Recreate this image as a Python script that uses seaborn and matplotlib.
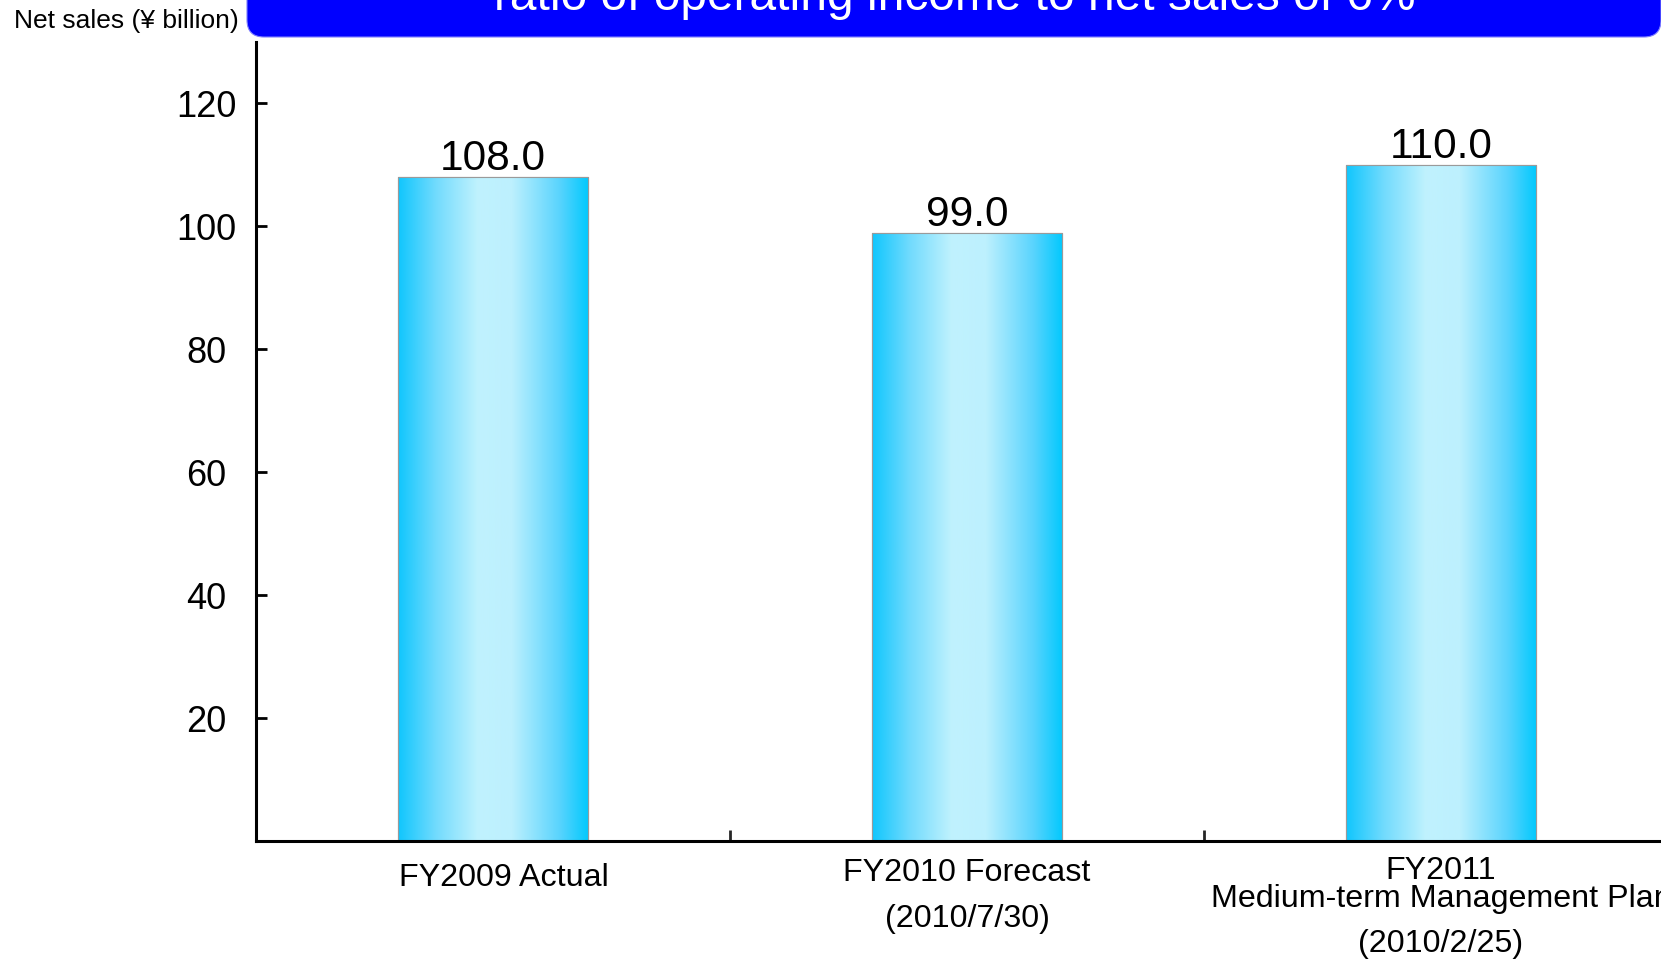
import numpy as np
import pandas as pd
import matplotlib
matplotlib.use("Agg")
import matplotlib.pyplot as plt
import seaborn as sns
from matplotlib.colors import LinearSegmentedColormap
from matplotlib.patches import FancyBboxPatch
from matplotlib.transforms import blended_transform_factory

# data
years = ["FY2009", "FY2010", "FY2011"]
net_sales = [108.0, 99.0, 110.0]
label_lines = [
    ["FY2009 Actual"],
    ["FY2010 Forecast", "(2010/7/30)"],
    ["FY2011", "Medium-term Management Plan", "(2010/2/25)"],
]
y_ticks = [20, 40, 60, 80, 100, 120]
banner_text = "ratio of operating income to net sales of 6%"
y_title = "Net sales (¥ billion)"

sns.set_style("white")
plt.rcParams["font.family"] = ["Liberation Sans", "DejaVu Sans"]

df = pd.DataFrame({"year": years, "sales": net_sales})

fig = plt.figure(figsize=(16.61, 9.60), dpi=100)
ax = fig.add_axes([256 / 1661, 119 / 960, 1422 / 1661, 799 / 960])

sns.barplot(data=df, x="year", y="sales", ax=ax, width=0.4, color="#33ccff",
            edgecolor="#9a9a9a", linewidth=0.8, errorbar=None)

# horizontal cyan gradient inside each bar
grad_cmap = LinearSegmentedColormap.from_list("bar", [
    (0.0, "#10c6fd"), (0.2, "#72dbfd"), (0.42, "#c0f2fe"),
    (0.6, "#bdf0fe"), (0.85, "#5ad4fd"), (1.0, "#05c9fd")])
grad = np.linspace(0, 1, 256).reshape(1, -1)
for p in ax.patches:
    x0, w, h = p.get_x(), p.get_width(), p.get_height()
    im = ax.imshow(grad, cmap=grad_cmap, aspect="auto",
                   extent=[x0, x0 + w, 0, h], zorder=p.get_zorder() + 0.1)
    im.set_clip_path(p)
    ax.add_patch(plt.Rectangle((x0, 0), w, h, fill=False, edgecolor="#9a9a9a",
                               linewidth=0.8, zorder=p.get_zorder() + 0.2))

for i, v in enumerate(net_sales):
    ax.annotate(f"{v:.1f}", (i, v), xytext=(0, -1.5), textcoords="offset points",
                ha="center", va="bottom", fontsize=30.5, color="black")

ax.set_xlim(-0.5, 2.5)
ax.set_ylim(0, 130)
ax.set_yticks(y_ticks)
ax.set_yticklabels([str(t) for t in y_ticks], ha="center")
ax.set_xticks([0.5, 1.5])
ax.set_xticklabels([])
ax.tick_params(axis="y", direction="in", length=8, width=2, labelsize=26,
               pad=36, left=True, colors="black")
ax.tick_params(axis="x", direction="in", length=8, width=2, bottom=True)
ax.set_xlabel("")
ax.set_ylabel("")
for s in ["top", "right"]:
    ax.spines[s].set_visible(False)
for s in ["left", "bottom"]:
    ax.spines[s].set_linewidth(2.2)
    ax.spines[s].set_color("black")

# category labels under the axis
trans = blended_transform_factory(ax.transData, ax.transAxes)
line_y = [[-0.046], [-0.040, -0.098], [-0.038, -0.072, -0.129]]
x_shift = [0.022, 0.0, 0.0]
for i, lines in enumerate(label_lines):
    for txt, yy in zip(lines, line_y[i]):
        ax.text(i + x_shift[i], yy, txt, transform=trans, ha="center",
                va="center", fontsize=23.2, color="black", clip_on=False)

# top banner and unit label
ov = fig.add_axes([0, 0, 1, 1], zorder=5)
ov.set_xlim(0, 1661)
ov.set_ylim(960, 0)
ov.axis("off")
ov.patch.set_alpha(0)
ov.add_patch(FancyBboxPatch((247, -60), 1414, 97,
                            boxstyle="round,pad=0,rounding_size=17",
                            facecolor="#0000ff", edgecolor="#7f7fff", linewidth=0.8))
ov.text(955, 10, banner_text, ha="center", va="baseline", fontsize=34.5,
        color="white")
ov.text(14, 21, y_title, ha="left", va="center", fontsize=19, color="black")

fig.savefig("out.png", dpi=100)
